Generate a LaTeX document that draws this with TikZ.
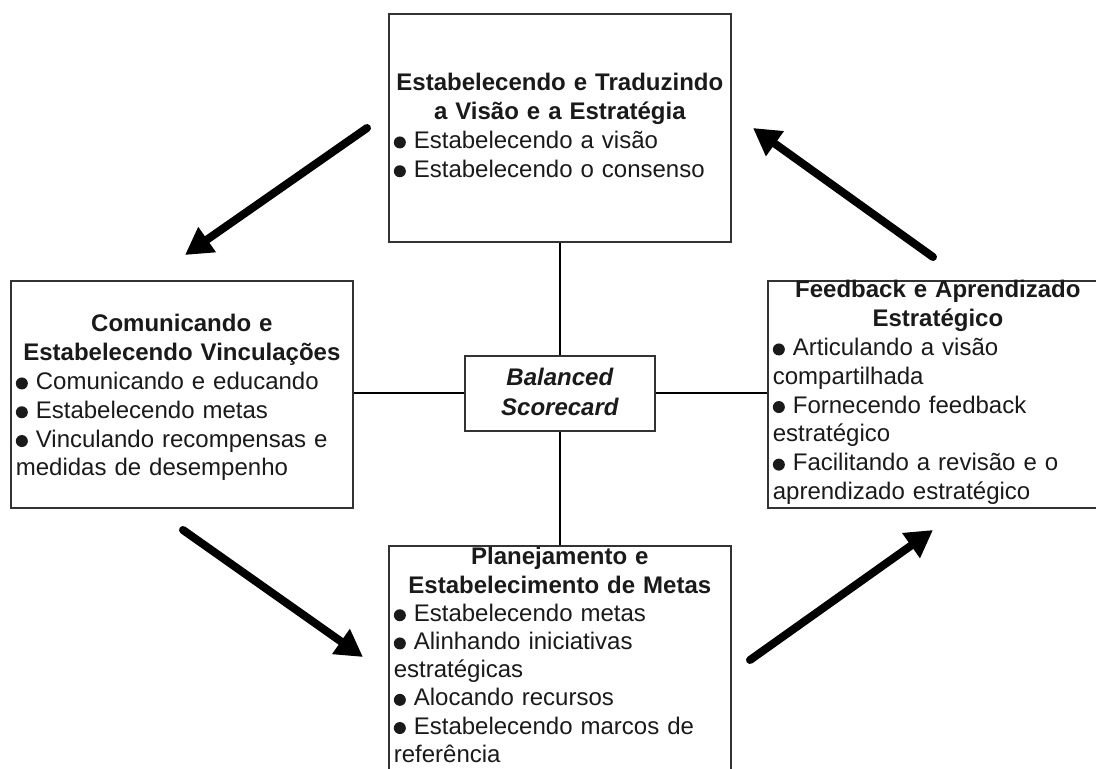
\documentclass[tikz,border=0pt]{standalone}
\usepackage{fontspec}
\setmainfont{Liberation Sans}
\usetikzlibrary{arrows.meta}

\definecolor{ink}{HTML}{1A1A1A}
\definecolor{boxgray}{HTML}{333333}
% round list marker sitting on the baseline
\newcommand\bul{\tikz[baseline=0pt]\fill[ink] (6pt,6pt) circle (6pt);\ }

\tikzset{
  panel/.style={draw=boxgray, line width=1.7pt, fill=white, anchor=north west,
    inner xsep=5pt, inner ysep=0pt, text=ink,
    font=\fontsize{24}{28.8}\selectfont},
  hub/.style={panel, align=center, font=\fontsize{24}{29.5}\selectfont\bfseries\itshape},
  link/.style={draw=black, line width=2pt},
  flow/.style={draw=black, line width=8pt, line cap=round,
    -{Triangle[length=27pt,width=29pt]}},
}

\begin{document}
\begin{tikzpicture}[x=1pt, y=-1pt]
  \useasboundingbox (0,0) rectangle (1096,769);
  \clip (0,0) rectangle (1096,769);

  % four process panels
  \node[panel, text width=332pt, text height=77pt, text depth=151pt] (vision) at (388,13)
    {{\centering\bfseries Estabelecendo e Traduzindo\\ a Visão e a Estratégia\par}
     \raggedright\bul Estabelecendo a visão\\ \bul Estabelecendo o consenso\par};

  \node[panel, text width=332pt, text height=51pt, text depth=176pt] (comm) at (10,280)
    {{\centering\bfseries Comunicando e\\ Estabelecendo Vinculações\par}
     \raggedright\bul Comunicando e educando\\ \bul Estabelecendo metas\\
     \bul Vinculando recompensas e\\ medidas de desempenho\par};

  \node[panel, text width=330pt, text height=17pt, text depth=210pt] (learn) at (767,280)
    {{\centering\bfseries Feedback e Aprendizado\\ Estratégico\par}
     \raggedright\bul Articulando a visão\\ compartilhada\\
     \bul Fornecendo feedback\\ estratégico\\
     \bul Facilitando a revisão e o\\ aprendizado estratégico\par};

  \node[panel, text width=332pt, text height=19pt, text depth=250pt,
        font=\fontsize{24}{28.2}\selectfont] (plan) at (388,545)
    {{\centering\bfseries Planejamento e\\ Estabelecimento de Metas\par}
     \raggedright\bul Estabelecendo metas\\ \bul Alinhando iniciativas\\ estratégicas\\
     \bul Alocando recursos\\ \bul Estabelecendo marcos de\\ referência\par};

  % central hub
  \node[hub, text width=180pt, text height=30pt, text depth=45pt] (bsc) at (464,355)
    {Balanced\\ Scorecard};

  % spokes from the hub
  \draw[link] (vision.south) -- (bsc.north);
  \draw[link] (bsc.south) -- (plan.north);
  \draw[link] (bsc.west) -- (bsc.west -| comm.east);
  \draw[link] (bsc.east) -- (bsc.east -| learn.west);

  % cycle arrows
  \coordinate (a1s) at (367,128); \coordinate (a1e) at (185,255);
  \coordinate (a2s) at (183,530); \coordinate (a2e) at (363,657);
  \coordinate (a3s) at (750,660); \coordinate (a3e) at (933,530);
  \coordinate (a4s) at (933,257); \coordinate (a4e) at (753,128);
  \draw[flow] (a1s) -- (a1e);
  \draw[flow] (a2s) -- (a2e);
  \draw[flow] (a3s) -- (a3e);
  \draw[flow] (a4s) -- (a4e);
\end{tikzpicture}
\end{document}
